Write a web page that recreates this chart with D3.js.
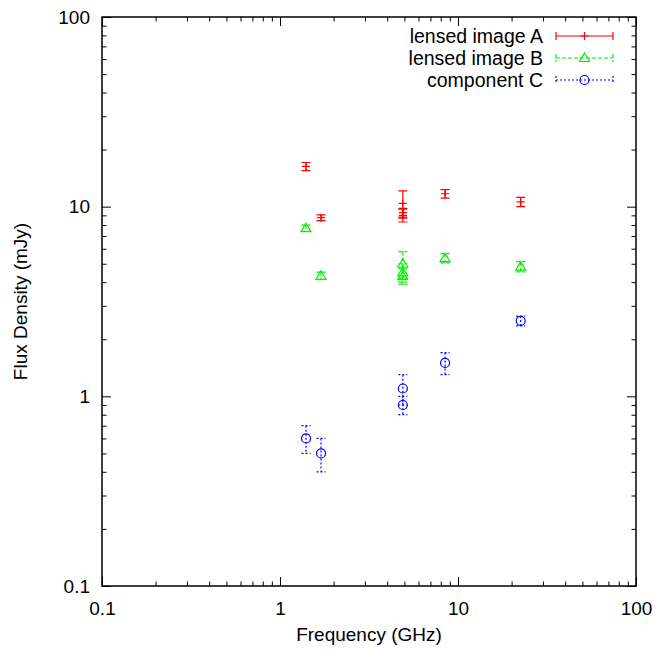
<!DOCTYPE html>
<html>
<head>
<meta charset="utf-8">
<script src="https://cdn.jsdelivr.net/npm/d3@7"></script>
<style>
  body { margin: 0; background: #fff; }
  text { font-family: "Liberation Sans", Arial, sans-serif; fill: #000; }
</style>
</head>
<body>
<div id="chart-div"></div>
<script>
// frequencies (GHz), flux (mJy) and errors for each component
const freqA = [1.4, 1.7, 4.9, 4.9, 4.9, 8.46, 22.5];
const fluxA = [16.3, 8.75, 10.4, 9.3, 9.0, 11.7, 10.6];
const errA  = [0.8, 0.3, 1.7, 0.5, 0.7, 0.6, 0.6];

const freqB = [1.4, 1.7, 4.9, 4.9, 4.9, 8.46, 22.5];
const fluxB = [7.7, 4.32, 5.0, 4.5, 4.3, 5.35, 4.83];
const errB  = [0.3, 0.2, 0.8, 0.5, 0.4, 0.3, 0.3];

const freqC = [1.4, 1.7, 4.9, 4.9, 8.46, 22.5];
const fluxC = [0.6, 0.5, 1.1, 0.9, 1.5, 2.5];
const errC  = [0.1, 0.1, 0.2, 0.1, 0.2, 0.15];

const seriesNames = ["lensed image A", "lensed image B", "component C"];
const xTickLabels = ["0.1", "1", "10", "100"];
const yTickLabels = ["0.1", "1", "10", "100"];

const width = 657;
const height = 649;
const plotLeft = 102, plotRight = 636, plotTop = 17, plotBottom = 586;

const svg = d3.select("#chart-div")
    .append("svg")
    .attr("width", width)
    .attr("height", height);

const xScale = d3.scaleLog().domain([0.1, 100]).range([plotLeft, plotRight]);
const yScale = d3.scaleLog().domain([0.1, 100]).range([plotBottom, plotTop]);

const majors = xTickLabels.map(Number);
const minors = [];
for (let d = 0.1; d < 100; d *= 10) {
    for (let k = 2; k <= 9; k++) minors.push(+(d * k).toPrecision(3));
}

function axisPair(axisFn, scale, values, size, labels) {
    const a = axisFn(scale).tickValues(values).tickSizeInner(-size).tickSizeOuter(0);
    if (labels) a.tickFormat((d, i) => labels[i]).tickPadding(12);
    else a.tickFormat("");
    return a;
}

function styleAxis(g) {
    g.select(".domain").remove();
    g.selectAll("line").attr("stroke", "#000").attr("stroke-width", 1);
    g.selectAll("text").attr("font-size", 19).attr("font-family", "Liberation Sans, Arial, sans-serif");
}

// bottom + top
svg.append("g").attr("transform", `translate(0,${plotBottom})`)
    .call(axisPair(d3.axisBottom, xScale, majors, 9, xTickLabels)).call(styleAxis)
    .selectAll("text").attr("dy", "0.9em");
svg.append("g").attr("transform", `translate(0,${plotBottom})`)
    .call(axisPair(d3.axisBottom, xScale, minors, 4.5)).call(styleAxis);
svg.append("g").attr("transform", `translate(0,${plotTop})`)
    .call(axisPair(d3.axisTop, xScale, majors, 9)).call(styleAxis);
svg.append("g").attr("transform", `translate(0,${plotTop})`)
    .call(axisPair(d3.axisTop, xScale, minors, 4.5)).call(styleAxis);

// left + right
svg.append("g").attr("transform", `translate(${plotLeft},0)`)
    .call(axisPair(d3.axisLeft, yScale, majors, 9, yTickLabels)).call(styleAxis);
svg.append("g").attr("transform", `translate(${plotLeft},0)`)
    .call(axisPair(d3.axisLeft, yScale, minors, 4.5)).call(styleAxis);
svg.append("g").attr("transform", `translate(${plotRight},0)`)
    .call(axisPair(d3.axisRight, yScale, majors, 9)).call(styleAxis);
svg.append("g").attr("transform", `translate(${plotRight},0)`)
    .call(axisPair(d3.axisRight, yScale, minors, 4.5)).call(styleAxis);

// frame
svg.append("rect")
    .attr("x", plotLeft).attr("y", plotTop)
    .attr("width", plotRight - plotLeft).attr("height", plotBottom - plotTop)
    .attr("fill", "none").attr("stroke", "#000").attr("stroke-width", 1.5);

// axis titles
svg.append("text")
    .attr("x", (plotLeft + plotRight) / 2).attr("y", 641)
    .attr("text-anchor", "middle").attr("font-size", 19)
    .text("Frequency (GHz)");
svg.append("text")
    .attr("transform", `translate(27,${(plotTop + plotBottom) / 2}) rotate(-90)`)
    .attr("text-anchor", "middle").attr("font-size", 19)
    .text("Flux Density (mJy)");

const series = [
    { name: seriesNames[0], f: freqA, v: fluxA, e: errA, color: "#ff0000", dash: null, marker: "plus" },
    { name: seriesNames[1], f: freqB, v: fluxB, e: errB, color: "#00ee00", dash: "4,2", marker: "triangle" },
    { name: seriesNames[2], f: freqC, v: fluxC, e: errC, color: "#0000ff", dash: "2,2", marker: "circle" }
];

function drawMarker(g, type, x, y, color) {
    if (type === "plus") {
        g.append("path").attr("d", `M${x - 4},${y}H${x + 4}M${x},${y - 4}V${y + 4}`)
            .attr("stroke", color).attr("stroke-width", 1.2).attr("fill", "none");
    } else if (type === "triangle") {
        g.append("path").attr("d", `M${x},${y - 5}L${x + 5},${y + 3.5}L${x - 5},${y + 3.5}Z`)
            .attr("stroke", color).attr("stroke-width", 1.2).attr("fill", "none");
    } else {
        g.append("circle").attr("cx", x).attr("cy", y).attr("r", 4.5)
            .attr("stroke", color).attr("stroke-width", 1.2).attr("fill", "none");
    }
}

const capW = 4.5;
series.forEach(s => {
    const g = svg.append("g");
    s.f.forEach((f, i) => {
        const x = xScale(f);
        const y = yScale(s.v[i]);
        const yHi = yScale(s.v[i] + s.e[i]);
        const yLo = yScale(s.v[i] - s.e[i]);
        g.append("path")
            .attr("d", `M${x},${yHi}V${yLo}M${x - capW},${yHi}H${x + capW}M${x - capW},${yLo}H${x + capW}`)
            .attr("stroke", s.color).attr("stroke-width", 1.2).attr("fill", "none")
            .attr("stroke-dasharray", s.dash);
        drawMarker(g, s.marker, x, y, s.color);
    });
});

// legend
const legY = [36, 58, 80];
series.forEach((s, i) => {
    const y = legY[i];
    svg.append("text")
        .attr("x", 543).attr("y", y).attr("dy", "0.35em")
        .attr("text-anchor", "end").attr("font-size", 19.5)
        .text(s.name);
    svg.append("path")
        .attr("d", `M556,${y}H613M556,${y - 4}V${y + 4}M613,${y - 4}V${y + 4}`)
        .attr("stroke", s.color).attr("stroke-width", 1.2).attr("fill", "none")
        .attr("stroke-dasharray", s.dash);
    drawMarker(svg, s.marker, 584.5, y, s.color);
});
</script>
</body>
</html>
